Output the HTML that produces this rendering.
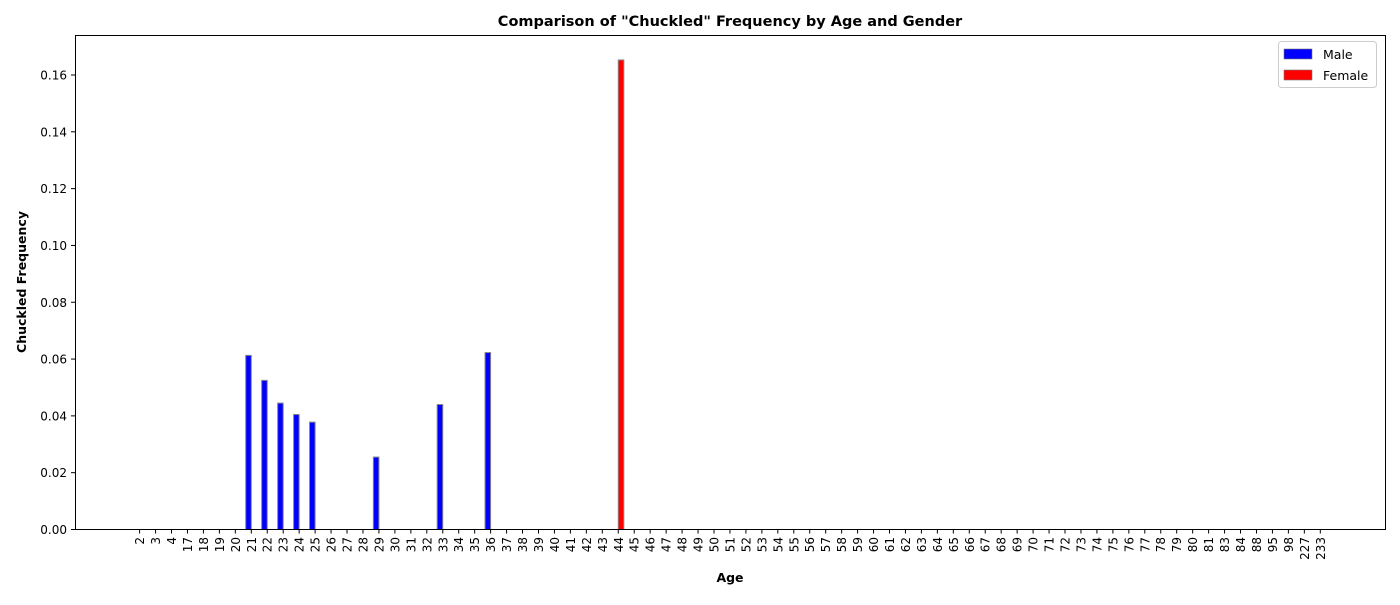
<!DOCTYPE html>
<html><head><meta charset="utf-8"><style>
body{margin:0;background:#fff;}
svg text{font-family:"DejaVu Sans","Liberation Sans",sans-serif;}
</style></head><body>
<svg id="chart" width="1400" height="600" xmlns="http://www.w3.org/2000/svg">
<text x="730" y="26" text-anchor="middle" font-size="14.5" font-weight="bold">Comparison of "Chuckled" Frequency by Age and Gender</text>
<g id="plot"></g>
<rect x="75.5" y="35.5" width="1310" height="494" fill="none" stroke="#000" stroke-width="1"/>
<text x="730" y="582" text-anchor="middle" font-size="12.5" font-weight="bold">Age</text>
<text transform="translate(26,282) rotate(-90)" text-anchor="middle" font-size="12.5" font-weight="bold">Chuckled Frequency</text>
<g>
<rect x="1278.5" y="41.5" width="98" height="46" rx="3" fill="#fff" stroke="#ccc"/>
<rect x="1284" y="49" width="28" height="10" fill="#0000ff" stroke="#777" stroke-width="0.6"/>
<text x="1323" y="59" font-size="12.5">Male</text>
<rect x="1284" y="70" width="28" height="10" fill="#ff0000" stroke="#777" stroke-width="0.6"/>
<text x="1323" y="80" font-size="12.5">Female</text>
</g>
</svg>
<script>
const ages=[2,3,4,17,18,19,20,21,22,23,24,25,26,27,28,29,30,31,32,33,34,35,36,37,38,39,40,41,42,43,44,45,46,47,48,49,50,51,52,53,54,55,56,57,58,59,60,61,62,63,64,65,66,67,68,69,70,71,72,73,74,75,76,77,78,79,80,81,83,84,88,95,98,227,233];
const maleAges=[21,22,23,24,25,29,33,36];
const maleValues=[0.0613,0.0525,0.0445,0.0405,0.0378,0.0255,0.044,0.0623];
const femaleAges=[44];
const femaleValues=[0.1653];
const yTicks=[0,0.02,0.04,0.06,0.08,0.10,0.12,0.14,0.16];
const yTickLabels=["0.00","0.02","0.04","0.06","0.08","0.10","0.12","0.14","0.16"];

const NS="http://www.w3.org/2000/svg";
const g=document.getElementById('plot');
const x0=139.6,x1=1320.3;
const step=(x1-x0)/(ages.length-1);
const xPos=a=>x0+ages.indexOf(a)*step;
const yPos=v=>529.5-v*(454.5/0.16);
const bw=step*0.35;
function mk(t,attrs){const e=document.createElementNS(NS,t);for(const k in attrs)e.setAttribute(k,attrs[k]);g.appendChild(e);return e;}
ages.forEach(a=>{
  const x=xPos(a);
  const t=mk('line',{x1:x,x2:x,y1:529.5,y2:533.5,stroke:'#000'});
  
  
  const l=mk('text',{transform:`translate(${x+4.5},537) rotate(-90)`,'text-anchor':'end','font-size':'12'});
  
  
  l.textContent=a;
});
yTicks.forEach((v,i)=>{
  const y=yPos(v);
  const t=mk('line',{x1:71,x2:75.5,y1:y,y2:y,stroke:'#000'});
  
  
  const l=mk('text',{x:67,y:y+4.5,'text-anchor':'end','font-size':'12'});
  
  
  l.textContent=yTickLabels[i];
});
maleAges.forEach((a,i)=>{
  const x=xPos(a),y=yPos(maleValues[i]);
  const r=mk('rect',{x:x-bw,y:y,width:bw,height:529.5-y,fill:'#0000ff',stroke:'#888','stroke-width':1});
  
  
});
femaleAges.forEach((a,i)=>{
  const x=xPos(a),y=yPos(femaleValues[i]);
  const r=mk('rect',{x:x,y:y,width:bw,height:529.5-y,fill:'#ff0000',stroke:'#888','stroke-width':1});
  
  
});
</script>
</body></html>
